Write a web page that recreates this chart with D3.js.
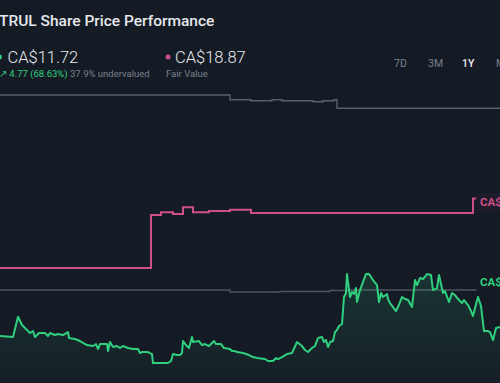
<!DOCTYPE html>
<html><head><meta charset="utf-8">
<script src="https://cdn.jsdelivr.net/npm/d3@7"></script>
<style>
html,body{margin:0;padding:0;background:#151b25;overflow:hidden}
svg{display:block;font-family:Roboto,"Noto Sans",sans-serif}
</style></head><body>
<script>
// ---- data ----
const title = "TRUL Share Price Performance";
const lastPrice = 11.72;
const fairValue = 18.87;
const changeText = "↗ 4.77 (68.63%)";
const undervaluedText = "37.9% undervalued";
const periods = ["7D", "3M", "1Y", "Max"];
const activePeriod = "1Y";

// share price (trading-day index, CA$)
const priceDays = [0,6.5,9,11,13.5,15,16.5,17.5,19.5,22.5,24,25,27.5,29,31.5,34,34.5,37.5,40,43.5,46.5,48,49,50,53.5,54,55,56.5,58.5,60,61.5,64,66.5,69,70,71,74,76,76.5,84,85.5,86.5,88.5,90,91,91.5,93,94.5,96,96.5,99.5,101,102.5,104.5,106,107,108,110.5,112,115,116,117.5,118.5,121.5,124.5,126.5,128.5,132.5,134,136.5,138,139,141,143.5,146,148.5,151,152.5,154,156,157.5,159,161,162,163,164,165,166.5,167.5,168.5,169.5,171,172,173,173.5,175,176,177,178,178.5,180,183,184.5,186.5,188.5,189.5,190.5,191.5,193.5,194,195,196.5,198,199,201,202.5,204,206,207.5,208.5,210,211.5,213.5,215.5,216.5,218.5,219.5,221.5,222.5,224.5,226,227.5,229,231,232,234,235.5,236.5,237.5,239,240.5,242,244,245,246.5,248,250];
const priceValues = [7.87,7.79,9.41,8.75,8.35,8.11,8.27,7.79,8.11,8.11,7.87,8.11,7.95,8.03,7.95,8.19,7.71,7.63,7.47,7.15,7.07,7.23,6.83,7.23,7.23,6.67,7.39,6.99,7.07,6.91,7.07,6.91,6.83,6.83,6.51,6.59,6.59,6.43,5.71,5.71,5.87,6.43,6.35,6.35,6.51,7.47,7.15,6.91,7.79,7.39,7.47,7.15,7.23,7.07,7.31,7.47,7.23,7.23,6.91,6.83,6.67,6.67,6.59,6.51,6.35,6.19,6.11,6.03,5.87,5.87,6.11,6.03,6.19,6.43,6.51,7.39,7.07,6.75,6.59,6.91,7.07,7.71,7.79,7.39,7.55,6.99,7.39,7.47,8.19,8.35,8.67,8.83,10.99,11.31,12.83,10.99,11.39,11.23,11.71,10.59,11.55,12.83,12.83,12.35,11.95,10.59,11.31,10.99,11.23,10.83,10.51,10.19,9.87,10.19,10.99,10.83,10.75,10.19,12.35,11.95,12.51,12.43,12.83,12.75,11.55,11.71,12.75,11.31,11.47,10.59,11.31,11.15,10.83,10.51,10.75,10.35,9.87,9.47,10.11,10.99,10.27,8.27,8.27,8.19,7.55,8.51,8.59];

// fair value (step)
const fairDays = [0,75.5,80.5,86.5,91.5,96.5,104.5,115,125.5,236.5,250];
const fairValues = [13.31,17.55,17.77,17.63,18.17,17.77,17.87,17.97,17.71,18.87,18.87];

// upper grey reference line (step)
const upperDays = [0,115,125.5,136,141,156.5,161.5,167,168.5,250];
const upperValues = [27.15,26.77,26.69,26.77,26.69,26.61,26.69,26.77,26.09,26.09];

// lower grey reference line (step)
const lowerDays = [0,115,140,165,175,250];
const lowerValues = [11.55,11.39,11.43,11.51,11.55,11.55];

// ---- chart ----
const W = 500, H = 383;
const svg = d3.select("body").append("svg").attr("width", W).attr("height", H);

const x = d3.scaleLinear().domain([0, 250]).range([0, 500]);
const y = d3.scaleLinear().domain([5, 28]).range([371.9, 84.4]);

const zip = (a, b) => a.map((d, i) => ({d, v: b[i]}));
const price = zip(priceDays, priceValues);
const fair = zip(fairDays, fairValues);
const upper = zip(upperDays, upperValues);
const lower = zip(lowerDays, lowerValues);

const defs = svg.append("defs");
const grad = defs.append("linearGradient").attr("id", "ga").attr("x1", 0).attr("x2", 0).attr("y1", 0).attr("y2", 1);
grad.append("stop").attr("offset", "0%").attr("stop-color", "#2fcf7f").attr("stop-opacity", 0.14);
grad.append("stop").attr("offset", "100%").attr("stop-color", "#2fcf7f").attr("stop-opacity", 0.02);

// title & header
svg.append("text").attr("x", -1).attr("y", 26).attr("fill", "#e6e8eb")
  .attr("font-size", 15.5).attr("font-weight", 500).text(title);

svg.append("circle").attr("cx", -0.5).attr("cy", 57).attr("r", 2.5).attr("fill", "#2fcf7f");
svg.append("text").attr("x", 7.5).attr("y", 62.5).attr("fill", "#e6e8eb")
  .attr("font-size", 16.5).attr("font-weight", 300).text("CA$" + lastPrice.toFixed(2));
svg.append("text").attr("x", -1).attr("y", 76.5).attr("fill", "#2fcf7f")
  .attr("font-size", 9.5).text(changeText);
svg.append("text").attr("x", 70).attr("y", 76.5).attr("fill", "#7b808a")
  .attr("font-size", 9.5).text(undervaluedText);

svg.append("circle").attr("cx", 168).attr("cy", 57).attr("r", 2.5).attr("fill", "#cf4f8d");
svg.append("text").attr("x", 175).attr("y", 62.5).attr("fill", "#e6e8eb")
  .attr("font-size", 16.5).attr("font-weight", 300).text("CA$" + fairValue.toFixed(2));
svg.append("text").attr("x", 166).attr("y", 76.5).attr("fill", "#7b808a")
  .attr("font-size", 9.5).text("Fair Value");

const px = d3.scalePoint().domain(periods).range([394, 496]);
svg.append("g").selectAll("text").data(periods).join("text")
  .attr("x", d => px(d)).attr("y", 66.5).attr("font-size", 10.5)
  .attr("fill", d => d === activePeriod ? "#f2f3f5" : "#7b808a")
  .attr("font-weight", d => d === activePeriod ? 500 : 400)
  .text(d => d);

// lines
const stepLine = d3.line().x(p => x(p.d)).y(p => y(p.v)).curve(d3.curveStepAfter);
svg.append("path").attr("d", stepLine(upper)).attr("fill", "none")
  .attr("stroke", "#5b616c").attr("stroke-width", 1.4);
svg.append("path").attr("d", stepLine(lower)).attr("fill", "none")
  .attr("stroke", "#4f5560").attr("stroke-width", 1.4);

const area = d3.area().x(p => x(p.d)).y0(H).y1(p => y(p.v));
svg.append("path").attr("d", area(price)).attr("fill", "url(#ga)");

svg.append("path").attr("d", stepLine(fair)).attr("fill", "none")
  .attr("stroke", "#cf4f8d").attr("stroke-width", 2);

const line = d3.line().x(p => x(p.d)).y(p => y(p.v));
svg.append("path").attr("d", line(price)).attr("fill", "none")
  .attr("stroke", "#2fcf7f").attr("stroke-width", 2).attr("stroke-linejoin", "round");

// value labels at right edge
function tag(val, color, bg, dy) {
  const cy = y(val) + dy;
  svg.append("rect").attr("x", 476).attr("y", cy - 9).attr("width", 40).attr("height", 18)
    .attr("rx", 2).attr("fill", bg);
  svg.append("text").attr("x", 480).attr("y", cy + 4).attr("fill", color)
    .attr("font-size", 11.5).attr("font-weight", 700).text("CA$" + val.toFixed(2));
}
tag(fairValue, "#cf4f8d", "#1d1c28", 3.5);
tag(lastPrice, "#2fcf7f", "#151b25", -6);
</script>
</body></html>
